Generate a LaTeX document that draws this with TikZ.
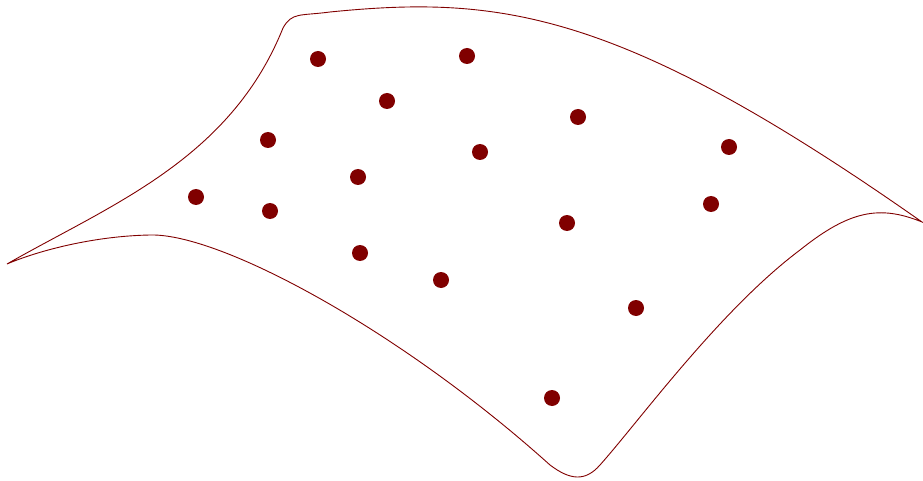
\documentclass[tikz,border=0pt]{standalone}
\definecolor{mred}{HTML}{800000}
\begin{document}
\begin{tikzpicture}[x=1pt,y=-1pt,
  dot/.style={circle,fill=mred,inner sep=0pt,minimum size=16pt},
  edge/.style={draw=mred,line width=0.9pt}]
\useasboundingbox (0,0) rectangle (923,481);
\draw[edge] (7,264) .. controls (110,205) and (230,160) .. (283,28)
  .. controls (292,12) and (300,16) .. (330,12)
  .. controls (500,-5) and (620,10) .. (922,222)
  .. controls (880,205) and (850,210) .. (800,250)
  .. controls (720,310) and (640,420) .. (600,465)
  .. controls (585,482) and (570,480) .. (550,465)
  .. controls (400,330) and (220,233) .. (150,235)
  .. controls (95,236) and (40,250) .. (7,264);
\foreach \x/\y [count=\i] in {318/59,467/56,387/101,578/117,268/140,480/152,729/147,358/177,196/197,270/211,711/204,567/223,360/253,441/280,636/308,552/398}
  \node[dot] (p\i) at (\x,\y) {};
\end{tikzpicture}
\end{document}
